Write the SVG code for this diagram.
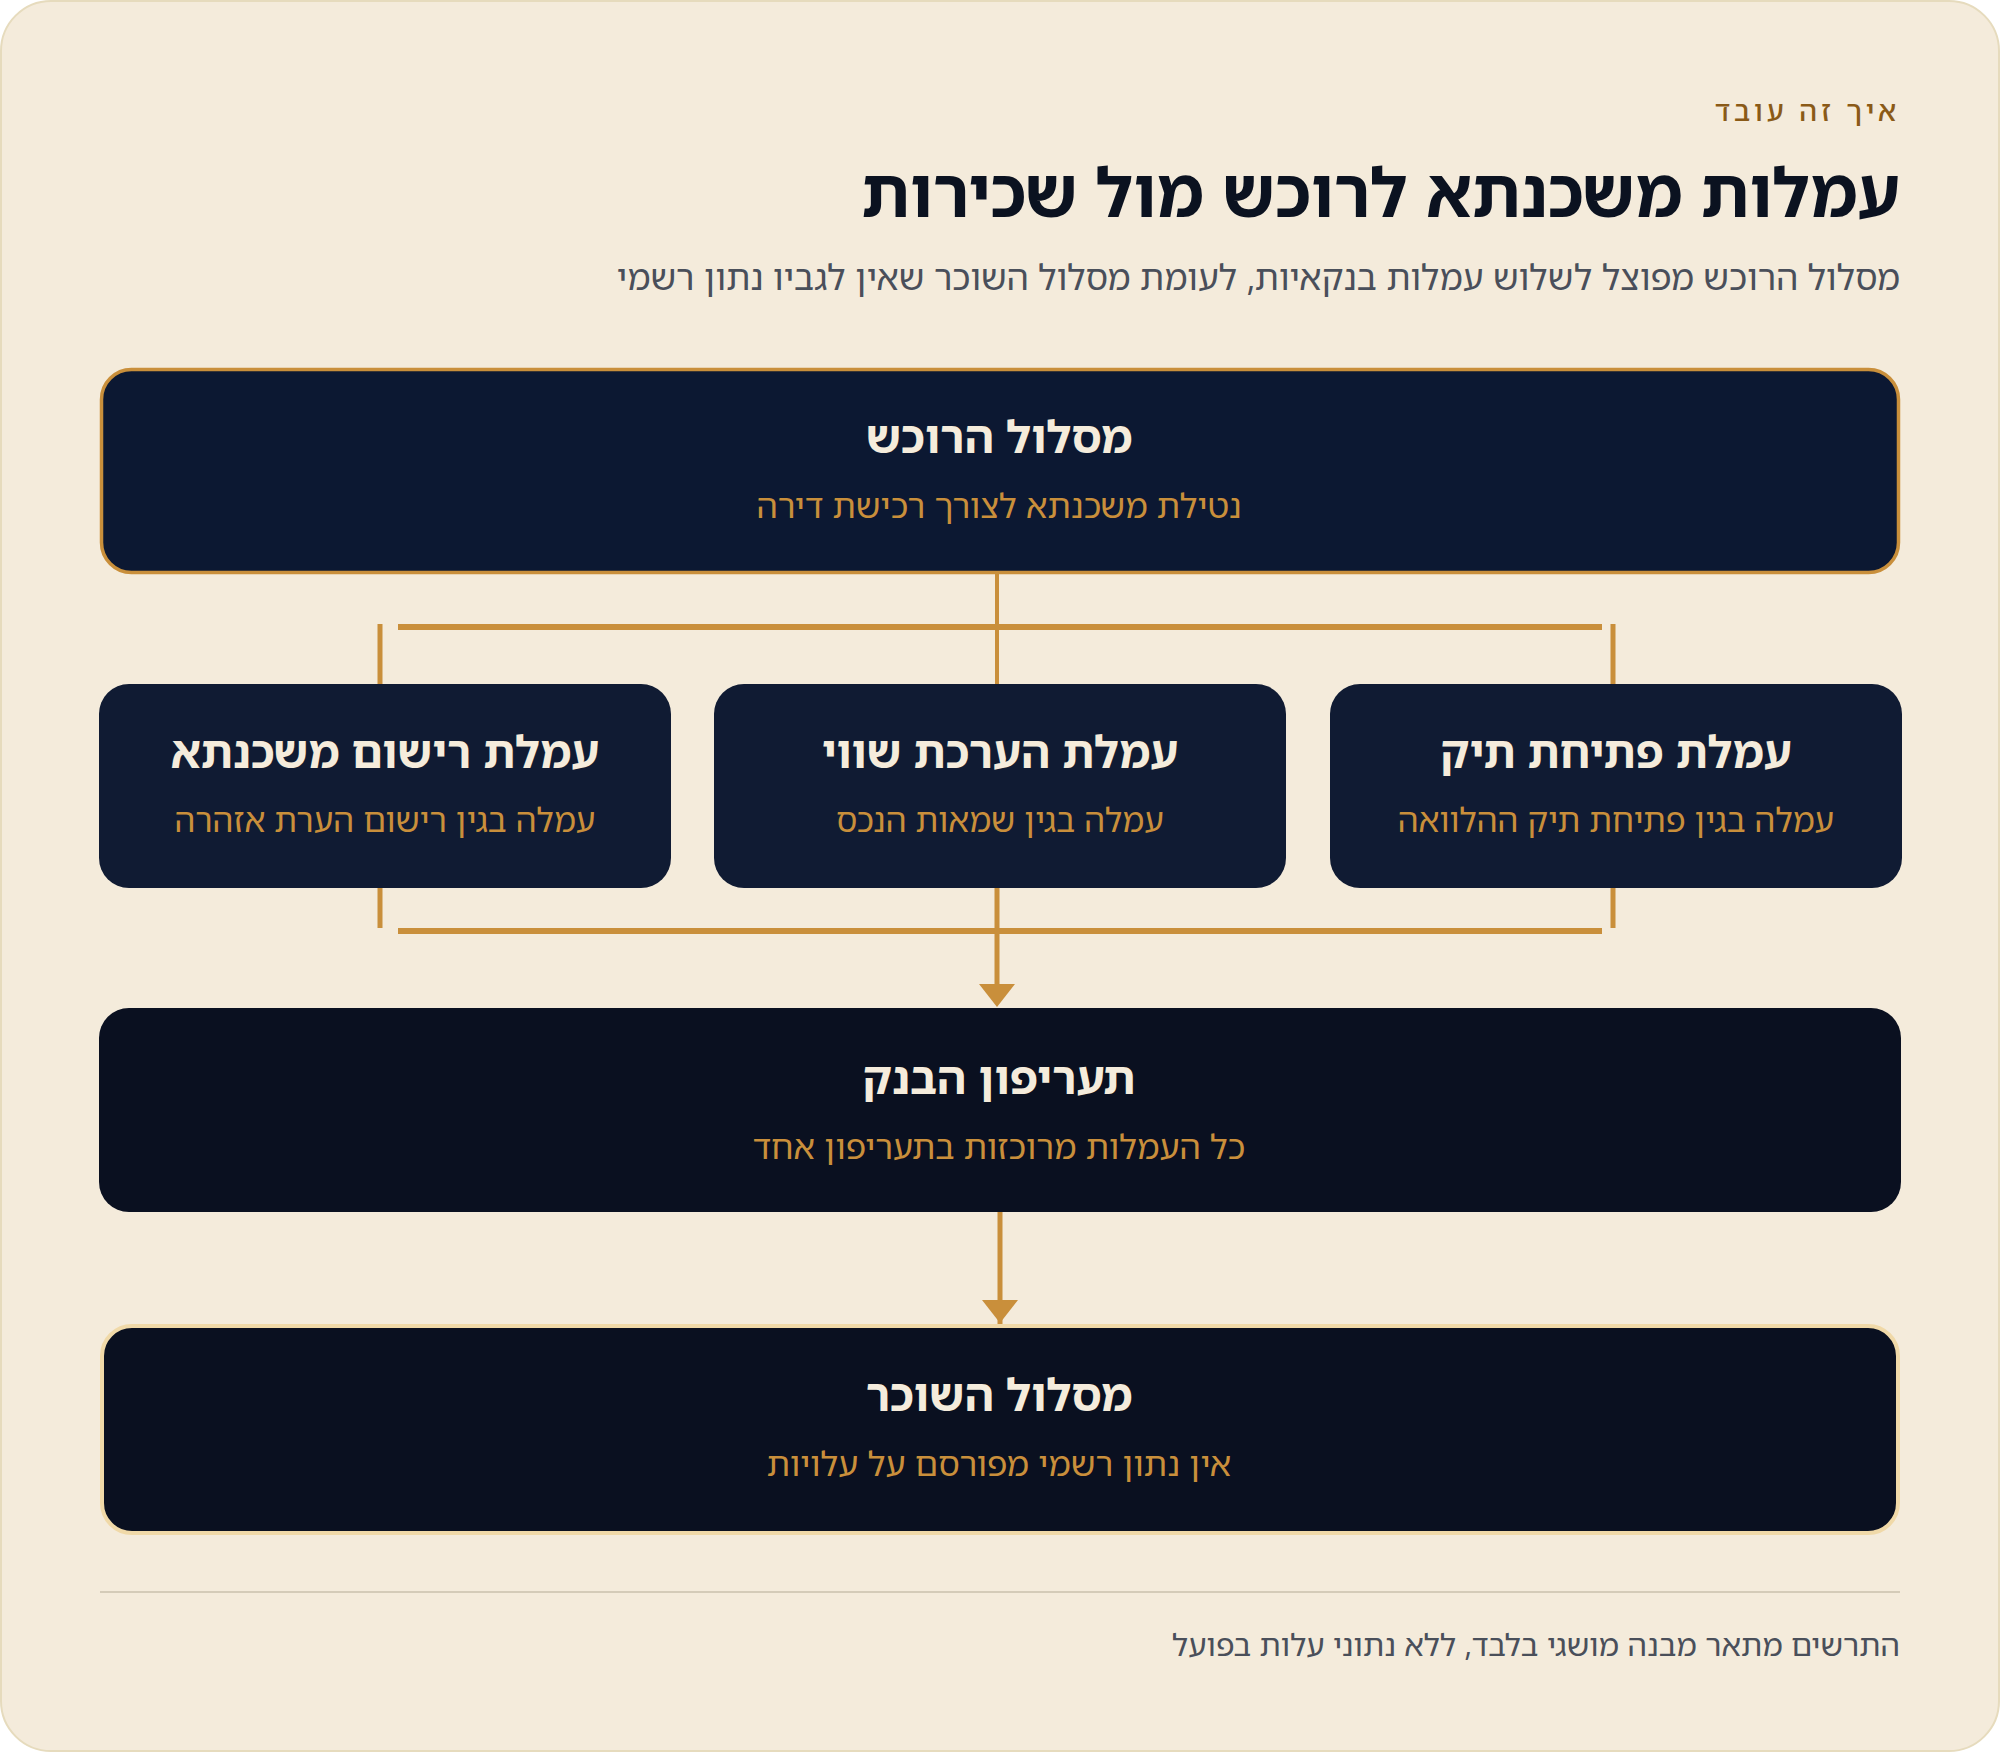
<svg xmlns="http://www.w3.org/2000/svg" width="2000" height="1752" viewBox="0 0 2000 1752">
  <style>
    text { font-family: "Noto Sans Hebrew", "Noto Sans", "DejaVu Sans", sans-serif; }
    .eyebrow { font-size: 28px; fill: #8a5a17; letter-spacing: 4px; font-weight: 500; }
    .title { font-size: 67.6px; font-weight: 700; fill: #0b1220; }
    .subtitle { font-size: 35.2px; fill: #4a4f5a; }
    .ntitle { font-size: 45px; font-weight: 700; fill: #f5ecdc; text-anchor: middle; }
    .nsub { font-size: 34px; fill: #c98f3b; text-anchor: middle; }
    .stitle { font-size: 44.5px; }
    .ssub { font-size: 33.2px; }
    .footer { font-size: 31px; fill: #4a4f5a; }
    .conn { stroke: #c98f3b; fill: none; }
  </style>
  <rect x="1" y="1" width="1998" height="1750" rx="50" fill="#f4ebdb" stroke="#e6dbbd" stroke-width="2"/>
  <text class="eyebrow" x="1900" y="121" text-anchor="end">איך זה עובד</text>
  <text class="title" x="1900" y="217" text-anchor="end">עמלות משכנתא לרוכש מול שכירות</text>
  <text class="subtitle" x="1900" y="290" text-anchor="end">מסלול הרוכש מפוצל לשלוש עמלות בנקאיות, לעומת מסלול השוכר שאין לגביו נתון רשמי</text>

  <g id="connectors">
    <line class="conn" x1="997" y1="574" x2="997" y2="684" stroke-width="4"/>
    <line class="conn" x1="398" y1="627" x2="1602" y2="627" stroke-width="6"/>
    <line class="conn" x1="380" y1="624" x2="380" y2="684" stroke-width="5"/>
    <line class="conn" x1="1613" y1="624" x2="1613" y2="684" stroke-width="5"/>
    <line class="conn" x1="380" y1="888" x2="380" y2="928" stroke-width="5"/>
    <line class="conn" x1="1613" y1="888" x2="1613" y2="928" stroke-width="5"/>
    <line class="conn" x1="398" y1="931" x2="1602" y2="931" stroke-width="6"/>
    <line class="conn" x1="997" y1="888" x2="997" y2="986" stroke-width="5"/>
    <polygon points="979,984 1015,984 997,1007" fill="#c98f3b"/>
    <line class="conn" x1="1000" y1="1212" x2="1000" y2="1326" stroke-width="5"/>
    <polygon points="982,1300 1018,1300 1000,1323" fill="#c98f3b"/>
  </g>

  <g id="buyer">
    <rect x="101.5" y="369.5" width="1797" height="203" rx="30" fill="#0c1832" stroke="#c98f3b" stroke-width="3.5"/>
    <text class="ntitle" x="999" y="453">מסלול הרוכש</text>
    <text class="nsub" x="999" y="518">נטילת משכנתא לצורך רכישת דירה</text>
  </g>

  <g id="fee-registration">
    <rect x="99" y="684" width="572" height="204" rx="30" fill="#101b33"/>
    <text class="ntitle stitle" x="385" y="768">עמלת רישום משכנתא</text>
    <text class="nsub ssub" x="385" y="832">עמלה בגין רישום הערת אזהרה</text>
  </g>

  <g id="fee-appraisal">
    <rect x="714" y="684" width="572" height="204" rx="30" fill="#101b33"/>
    <text class="ntitle stitle" x="1000" y="768">עמלת הערכת שווי</text>
    <text class="nsub ssub" x="1000" y="832">עמלה בגין שמאות הנכס</text>
  </g>

  <g id="fee-opening">
    <rect x="1330" y="684" width="572" height="204" rx="30" fill="#101b33"/>
    <text class="ntitle stitle" x="1616" y="768">עמלת פתיחת תיק</text>
    <text class="nsub ssub" x="1616" y="832">עמלה בגין פתיחת תיק ההלוואה</text>
  </g>

  <g id="bank-tariff">
    <rect x="99" y="1008" width="1802" height="204" rx="30" fill="#0a1020"/>
    <text class="ntitle" x="999" y="1094">תעריפון הבנק</text>
    <text class="nsub" x="999" y="1159">כל העמלות מרוכזות בתעריפון אחד</text>
  </g>

  <g id="renter">
    <rect x="102" y="1326" width="1796" height="207" rx="30" fill="#0a1020" stroke="#f0d9a8" stroke-width="4"/>
    <text class="ntitle" x="999" y="1411">מסלול השוכר</text>
    <text class="nsub" x="999" y="1476">אין נתון רשמי מפורסם על עלויות</text>
  </g>

  <line x1="100" y1="1592" x2="1900" y2="1592" stroke="#d4cbb8" stroke-width="2"/>
  <text class="footer" x="1900" y="1656" text-anchor="end">התרשים מתאר מבנה מושגי בלבד, ללא נתוני עלות בפועל</text>
</svg>
